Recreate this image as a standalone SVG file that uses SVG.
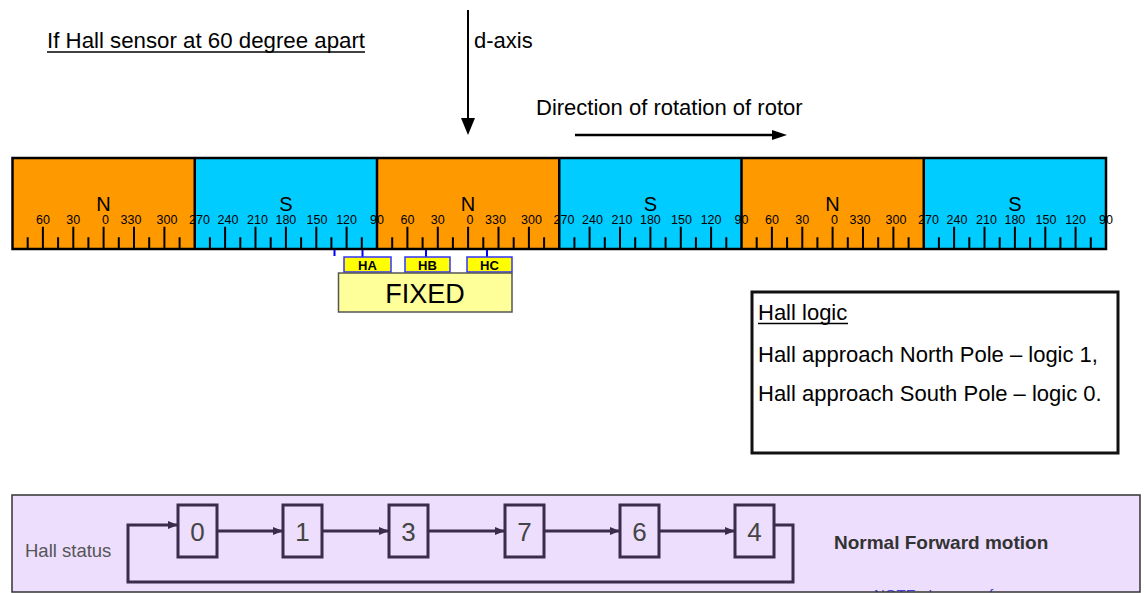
<svg xmlns="http://www.w3.org/2000/svg" width="1145" height="593" viewBox="0 0 1145 593">
<style>
text{font-family:"Liberation Sans",Arial,sans-serif;fill:#000}
.big{font-size:22px}
.pole{font-size:20px;text-anchor:middle}
.deg{font-size:12.5px;text-anchor:middle}
.N{fill:#FF9900}
.S{fill:#00CCFF}
.tick{stroke:#000;stroke-width:2;fill:none}
.div{stroke:#000;stroke-width:2.5;fill:none}
.hs{fill:#FFFF00;stroke:#3333FF;stroke-width:1.5}
.hsl{font-size:13px;font-weight:bold;text-anchor:middle}
.blue{stroke:#0000FF;stroke-width:2;fill:none}
.st{fill:none;stroke:#3D2B4D;stroke-width:3}
.stt{font-size:26px;fill:#444;text-anchor:middle}
.flow{fill:none;stroke:#3D2B4D;stroke-width:3}
</style>
<defs>
<marker id="ah" viewBox="0 0 10 8" refX="10" refY="4" markerWidth="10" markerHeight="8" markerUnits="userSpaceOnUse" orient="auto"><path d="M0,0L10,4L0,8z" fill="#3D2B4D"/></marker>
<clipPath id="panelclip"><rect x="12" y="495" width="1128" height="97"/></clipPath>
</defs>

<g id="title">
<text class="big" x="47" y="48" textLength="318" lengthAdjust="spacingAndGlyphs">If Hall sensor at 60 degree apart</text>
<line x1="47" y1="52" x2="365" y2="52" stroke="#000" stroke-width="1.3"/>
</g>

<g id="d-axis">
<line x1="468" y1="10" x2="468" y2="120" stroke="#000" stroke-width="2"/>
<polygon points="461,118 475,118 468,135" fill="#000"/>
<text class="big" x="474" y="48">d-axis</text>
</g>

<g id="rotation">
<text class="big" x="536" y="115">Direction of rotation of rotor</text>
<line x1="575" y1="135" x2="774" y2="135" stroke="#000" stroke-width="2.5"/>
<polygon points="772,130 787,135 772,140" fill="#000"/>
</g>

<g id="rotor">
<rect class="N" x="12.5" y="158" width="182.25" height="91"/>
<rect class="S" x="194.75" y="158" width="182.25" height="91"/>
<rect class="N" x="377" y="158" width="182.25" height="91"/>
<rect class="S" x="559.25" y="158" width="182.25" height="91"/>
<rect class="N" x="741.5" y="158" width="182.25" height="91"/>
<rect class="S" x="923.75" y="158" width="182.25" height="91"/>
<text class="pole" x="103.6" y="211">N</text>
<text class="pole" x="285.9" y="211">S</text>
<text class="pole" x="468.1" y="211">N</text>
<text class="pole" x="650.4" y="211">S</text>
<text class="pole" x="832.6" y="211">N</text>
<text class="pole" x="1014.9" y="211">S</text>
<g class="deg-labels">
<text class="deg" x="42.9" y="224">60</text><text class="deg" x="73.2" y="224">30</text><text class="deg" x="105.5" y="224">0</text><text class="deg" x="131" y="224">330</text><text class="deg" x="167" y="224">300</text><text class="deg" x="199.5" y="224">270</text>
<text class="deg" x="228" y="224">240</text><text class="deg" x="257.5" y="224">210</text><text class="deg" x="285.9" y="224">180</text><text class="deg" x="317" y="224">150</text><text class="deg" x="346.6" y="224">120</text><text class="deg" x="377" y="224">90</text>
<text class="deg" x="407.4" y="224">60</text><text class="deg" x="437.7" y="224">30</text><text class="deg" x="470" y="224">0</text><text class="deg" x="495.5" y="224">330</text><text class="deg" x="531.5" y="224">300</text><text class="deg" x="564" y="224">270</text>
<text class="deg" x="592.5" y="224">240</text><text class="deg" x="622" y="224">210</text><text class="deg" x="650.4" y="224">180</text><text class="deg" x="681.5" y="224">150</text><text class="deg" x="711.1" y="224">120</text><text class="deg" x="741.5" y="224">90</text>
<text class="deg" x="771.9" y="224">60</text><text class="deg" x="802.2" y="224">30</text><text class="deg" x="834.5" y="224">0</text><text class="deg" x="860" y="224">330</text><text class="deg" x="896" y="224">300</text><text class="deg" x="928.5" y="224">270</text>
<text class="deg" x="957" y="224">240</text><text class="deg" x="986.5" y="224">210</text><text class="deg" x="1014.9" y="224">180</text><text class="deg" x="1046" y="224">150</text><text class="deg" x="1075.6" y="224">120</text><text class="deg" x="1106" y="224">90</text>
</g>
<path class="tick" d="M27.7,249V237.3M42.9,249V226.7M58.1,249V237.3M73.3,249V226.7M88.4,249V237.3M103.6,249V226.7M118.8,249V237.3M134,249V226.7M149.2,249V237.3M164.4,249V226.7M179.6,249V237.3
M209.9,249V237.3M225.1,249V226.7M240.3,249V237.3M255.5,249V226.7M270.7,249V237.3M285.9,249V226.7M301.1,249V237.3M316.3,249V226.7M331.4,249V237.3M346.6,249V226.7M361.8,249V237.3
M392.2,249V237.3M407.4,249V226.7M422.6,249V237.3M437.8,249V226.7M452.9,249V237.3M468.1,249V226.7M483.3,249V237.3M498.5,249V226.7M513.7,249V237.3M528.9,249V226.7M544.1,249V237.3
M574.4,249V237.3M589.6,249V226.7M604.8,249V237.3M620,249V226.7M635.2,249V237.3M650.4,249V226.7M665.6,249V237.3M680.8,249V226.7M695.9,249V237.3M711.1,249V226.7M726.3,249V237.3
M756.7,249V237.3M771.9,249V226.7M787.1,249V237.3M802.3,249V226.7M817.4,249V237.3M832.6,249V226.7M847.8,249V237.3M863,249V226.7M878.2,249V237.3M893.4,249V226.7M908.6,249V237.3
M938.9,249V237.3M954.1,249V226.7M969.3,249V237.3M984.5,249V226.7M999.7,249V237.3M1014.9,249V226.7M1030.1,249V237.3M1045.3,249V226.7M1060.4,249V237.3M1075.6,249V226.7M1090.8,249V237.3"/>
<path class="div" d="M194.75,158V249M377,158V249M559.25,158V249M741.5,158V249M923.75,158V249"/>
<rect x="12.5" y="158" width="1093.5" height="91" fill="none" stroke="#000" stroke-width="2.5"/>
</g>

<g id="sensors">
<path class="blue" d="M334.5,250V256M362.5,250V257M426,250V257M487,250V257"/>
<rect class="hs" x="344" y="257" width="47" height="15"/>
<text class="hsl" x="367.5" y="269.5">HA</text>
<rect class="hs" x="405" y="257" width="45" height="15"/>
<text class="hsl" x="427.5" y="269.5">HB</text>
<rect class="hs" x="467" y="257" width="45" height="15"/>
<text class="hsl" x="489.5" y="269.5">HC</text>
</g>

<g id="fixed">
<rect x="338.5" y="273" width="173.5" height="39" fill="#FFFF99" stroke="#555" stroke-width="1.5"/>
<text x="425" y="303" font-size="27" text-anchor="middle">FIXED</text>
</g>

<g id="hall-logic">
<rect x="752" y="292" width="366" height="161" fill="#fff" stroke="#111" stroke-width="3"/>
<text class="big" x="758" y="320">Hall logic</text>
<line x1="758" y1="323.5" x2="848" y2="323.5" stroke="#000" stroke-width="1.3"/>
<text class="big" x="758" y="362">Hall approach North Pole – logic 1,</text>
<text class="big" x="758" y="401">Hall approach South Pole – logic 0.</text>
</g>

<g id="panel">
<rect x="12" y="495" width="1128" height="97" fill="#ECDEFC"/>
<text x="874" y="599.5" font-size="15" clip-path="url(#panelclip)" style="fill:#4444DD">NOTE : In case of</text>
<rect x="12" y="495" width="1128" height="97" fill="none" stroke="#333" stroke-width="1.5"/>
<text x="25" y="557" font-size="18.5" style="fill:#555">Hall status</text>
<text x="834" y="549" font-size="19" font-weight="bold" style="fill:#333">Normal Forward motion</text>
</g>

<g id="s0"><rect class="st" x="178" y="505" width="39" height="52"/><text class="stt" x="197.5" y="541">0</text></g>
<g id="s1"><rect class="st" x="283" y="505" width="39" height="52"/><text class="stt" x="302.5" y="541">1</text></g>
<g id="s3"><rect class="st" x="389" y="505" width="39" height="52"/><text class="stt" x="408.5" y="541">3</text></g>
<g id="s7"><rect class="st" x="505" y="505" width="39" height="52"/><text class="stt" x="524.5" y="541">7</text></g>
<g id="s6"><rect class="st" x="620" y="505" width="39" height="52"/><text class="stt" x="639.5" y="541">6</text></g>
<g id="s4"><rect class="st" x="735" y="505" width="39" height="52"/><text class="stt" x="754.5" y="541">4</text></g>

<g id="connectors">
<line class="flow" x1="217" y1="531" x2="283" y2="531" marker-end="url(#ah)"/>
<line class="flow" x1="322" y1="531" x2="389" y2="531" marker-end="url(#ah)"/>
<line class="flow" x1="428" y1="531" x2="505" y2="531" marker-end="url(#ah)"/>
<line class="flow" x1="544" y1="531" x2="620" y2="531" marker-end="url(#ah)"/>
<line class="flow" x1="659" y1="531" x2="735" y2="531" marker-end="url(#ah)"/>
<path class="flow" d="M774,525H793V582H128V525H178" marker-end="url(#ah)"/>
</g>
</svg>
